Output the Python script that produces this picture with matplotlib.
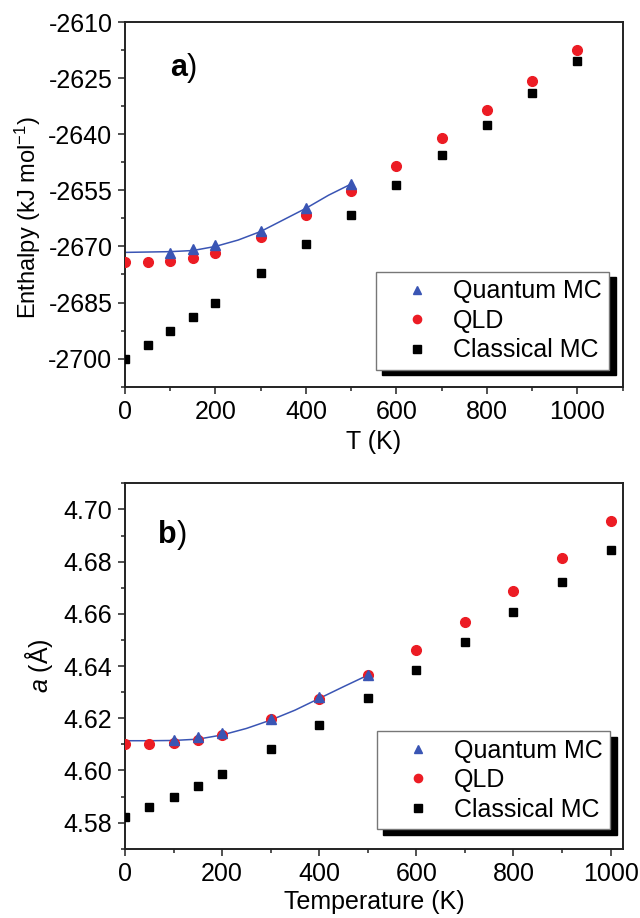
import matplotlib
matplotlib.use("Agg")
import matplotlib.pyplot as plt
import matplotlib.legend as mlegend
from matplotlib.patches import Shadow
from matplotlib.ticker import MultipleLocator, FormatStrFormatter

plt.rcParams['font.family'] = ['Liberation Sans', 'DejaVu Sans']
plt.rcParams['mathtext.fontset'] = 'custom'
plt.rcParams['mathtext.rm'] = 'Liberation Sans'
plt.rcParams['mathtext.it'] = 'Liberation Sans:italic'
plt.rcParams['axes.unicode_minus'] = False

# temperatures
T_all = [0, 50, 100, 150, 200, 300, 400, 500, 600, 700, 800, 900, 1000]
T_qmc = [100, 150, 200, 300, 400, 500]
T_fit = [0, 50, 100, 150, 200, 250, 300, 350, 400, 450, 500]

# a) enthalpy
H_qmc = [-2671.7, -2670.7, -2669.6, -2665.9, -2659.7, -2653.4]
H_qld = [-2674.2, -2674.2, -2673.9, -2673.2, -2671.7, -2667.4, -2661.6, -2655.3,
         -2648.4, -2641.1, -2633.5, -2625.7, -2617.5]
H_cmc = [-2700.0, -2696.3, -2692.6, -2688.8, -2685.0, -2677.2, -2669.4, -2661.6,
         -2653.7, -2645.6, -2637.4, -2629.1, -2620.4]
H_fit = [-2671.6, -2671.5, -2671.4, -2671.1, -2670.0, -2668.3, -2666.0, -2662.9,
         -2659.8, -2656.3, -2653.3]

# b) lattice parameter
a_qmc = [4.6116, 4.6127, 4.6142, 4.6196, 4.6280, 4.6367]
a_qld = [4.6101, 4.6101, 4.6104, 4.6116, 4.6137, 4.6196, 4.6275, 4.6364,
         4.6462, 4.6570, 4.6687, 4.6815, 4.6955]
a_cmc = [4.5822, 4.5860, 4.5897, 4.5940, 4.5986, 4.6081, 4.6176, 4.6279,
         4.6384, 4.6493, 4.6607, 4.6723, 4.6844]
a_fit = [4.6114, 4.6114, 4.6115, 4.6120, 4.6136, 4.6161, 4.6193, 4.6231,
         4.6276, 4.6321, 4.6365]

blue = '#3a55b4'
red = '#ec1c24'
fs = 18

# black legend shadow with a larger offset
mlegend.Shadow = lambda patch, ox, oy, **kw: Shadow(patch, 4.5, -4, **kw)

fig = plt.figure(figsize=(6.4, 9.18), dpi=100)
ax1 = fig.add_axes([0.1953, 0.5784, 0.7777, 0.3976])
ax2 = fig.add_axes([0.1953, 0.0748, 0.7777, 0.3993])


def draw_panel(ax, yf, yq, yl, yc, anchor):
    ax.plot(T_fit, yf, color=blue, lw=1.1, zorder=2)
    ax.plot(T_qmc, yq, ls='none', marker='^', ms=7.5, color=blue, label='Quantum MC', zorder=4)
    ax.plot(T_all, yl, ls='none', marker='o', ms=7, color=red, label='QLD', zorder=3)
    ax.plot(T_all, yc, ls='none', marker='s', ms=6, color='black', label='Classical MC', zorder=3)
    for s in ax.spines.values():
        s.set_linewidth(1.4)
        s.set_color('#222222')
    ax.tick_params(which='both', direction='out', labelsize=fs, width=1.2, color='#333333')
    ax.tick_params(which='major', length=5, pad=4)
    ax.tick_params(which='minor', length=3)
    ax.xaxis.set_major_locator(MultipleLocator(200))
    ax.xaxis.set_minor_locator(MultipleLocator(100))
    leg = ax.legend(loc='lower right', bbox_to_anchor=anchor, fontsize=fs,
                    frameon=True, fancybox=False, shadow={'color': 'black', 'alpha': 1},
                    handletextpad=0.1, borderpad=0.3, borderaxespad=0, labelspacing=0.22,
                    handlelength=2.7, markerscale=0.85)
    leg.get_frame().set_edgecolor('#777777')
    leg.get_frame().set_linewidth(1.0)


draw_panel(ax1, H_fit, H_qmc, H_qld, H_cmc, (0.973, 0.047))
ax1.set_xlim(0, 1100)
ax1.set_ylim(-2707.6, -2610)
ax1.yaxis.set_minor_locator(MultipleLocator(7.5))
ax1.set_yticks([-2610, -2625, -2640, -2655, -2670, -2685, -2700])
ax1.set_xlabel('T (K)', fontsize=fs, labelpad=5)
ax1.set_ylabel('Enthalpy (kJ mol$^{\\mathregular{-1}}$)', fontsize=17)
ax1.yaxis.set_label_coords(-0.165, 0.463)
ta = ax1.text(0.09, 0.874, 'a', transform=ax1.transAxes, fontsize=22, fontweight='bold',
              ha='left', va='center')
ax1.annotate(')', xy=(1, 0), xycoords=ta, fontsize=22, ha='left', va='bottom')

draw_panel(ax2, a_fit, a_qmc, a_qld, a_cmc, (0.975, 0.055))
ax2.set_xlim(0, 1025)
ax2.set_ylim(4.5698, 4.7102)
ax2.yaxis.set_major_locator(MultipleLocator(0.02))
ax2.yaxis.set_minor_locator(MultipleLocator(0.01))
ax2.yaxis.set_major_formatter(FormatStrFormatter('%.2f'))
ax2.set_xlabel('Temperature (K)', fontsize=fs, labelpad=3)
ax2.set_ylabel('$a$ (Å)', fontsize=fs, labelpad=6)
tb = ax2.text(0.066, 0.857, 'b', transform=ax2.transAxes, fontsize=22, fontweight='bold',
              ha='left', va='center')
ax2.annotate(')', xy=(1, 0), xycoords=tb, fontsize=22, ha='left', va='bottom')

fig.savefig('out.png', dpi=100)
